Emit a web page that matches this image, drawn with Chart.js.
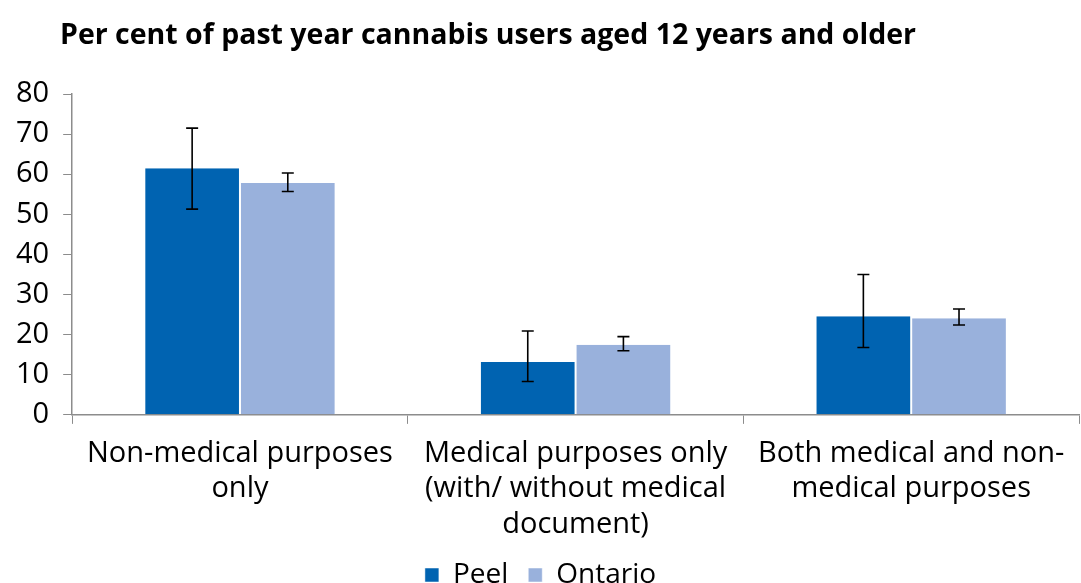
<!DOCTYPE html>
<html>
<head>
<meta charset="utf-8">
<script src="https://cdn.jsdelivr.net/npm/chart.js@4"></script>
<style>
  html, body { margin: 0; padding: 0; background: #fff; }
  #wrap { width: 1081px; height: 583px; }
</style>
</head>
<body>
<div id="wrap"><canvas id="cannabisChart" width="1081" height="583"></canvas></div>
<script>
// Chart data
const categories = [
    ['Non-medical purposes', 'only'],
    ['Medical purposes only', '(with/ without medical', 'document)'],
    ['Both medical and non-', 'medical purposes']
];
const peelValues = [61.5, 13.2, 24.6];
const peelLow = [51.3, 8.3, 16.8];
const peelHigh = [71.5, 20.9, 35.0];
const ontarioValues = [57.8, 17.5, 24.1];
const ontarioLow = [55.7, 16.0, 22.4];
const ontarioHigh = [60.3, 19.5, 26.4];
const yTicks = [0, 10, 20, 30, 40, 50, 60, 70, 80];

const FONT = "'Open Sans', 'DejaVu Sans', sans-serif";
const titleText = 'Per cent of past year cannabis users aged 12 years and older';

// Draws the bold title at the top left
const titlePlugin = {
    id: 'titleText',
    afterDraw(chart) {
        const ctx = chart.ctx;
        ctx.save();
        ctx.font = "bold 28.5px " + FONT;
        ctx.fillStyle = '#000';
        ctx.textBaseline = 'middle';
        ctx.fillText(titleText, 60, 36);
        ctx.restore();
    }
};

// Error bars for every bar, read from the low/high arrays
const errorBarPlugin = {
    id: 'errorBars',
    afterDatasetsDraw(chart) {
        const ctx = chart.ctx;
        const yScale = chart.scales.y;
        ctx.save();
        ctx.strokeStyle = '#000';
        ctx.lineWidth = 1.6;
        chart.data.datasets.forEach((ds, i) => {
            const meta = chart.getDatasetMeta(i);
            meta.data.forEach((bar, j) => {
                const x = bar.x;
                const yLow = yScale.getPixelForValue(ds.errLow[j]);
                const yHigh = yScale.getPixelForValue(ds.errHigh[j]);
                const cap = 6;
                ctx.beginPath();
                ctx.moveTo(x, yLow);
                ctx.lineTo(x, yHigh);
                ctx.moveTo(x - cap, yLow);
                ctx.lineTo(x + cap, yLow);
                ctx.moveTo(x - cap, yHigh);
                ctx.lineTo(x + cap, yHigh);
                ctx.stroke();
            });
        });
        ctx.restore();
    }
};

const chart = new Chart(document.getElementById('cannabisChart'), {
    type: 'bar',
    data: {
        labels: categories,
        datasets: [
            {
                label: 'Peel',
                data: peelValues,
                errLow: peelLow,
                errHigh: peelHigh,
                backgroundColor: '#0063b1',
                borderColor: '#ffffff',
                borderWidth: { left: 1, right: 1 },
                categoryPercentage: 0.57,
                barPercentage: 1.0
            },
            {
                label: 'Ontario',
                data: ontarioValues,
                errLow: ontarioLow,
                errHigh: ontarioHigh,
                backgroundColor: '#99b1dc',
                borderColor: '#ffffff',
                borderWidth: { left: 1, right: 1 },
                categoryPercentage: 0.57,
                barPercentage: 1.0
            }
        ]
    },
    options: {
        responsive: false,
        animation: false,
        layout: {
            padding: { top: 94, right: 2, left: 2, bottom: -16 }
        },
        plugins: {
            legend: {
                position: 'bottom',
                labels: {
                    font: { family: FONT, size: 28 },
                    color: '#000',
                    usePointStyle: true,
                    pointStyle: 'rect',
                    boxWidth: 14,
                    boxHeight: 14,
                    padding: 20
                }
            },
            tooltip: { enabled: false },
            title: { display: false }
        },
        scales: {
            x: {
                // let the label block overlap the legend's top padding
                afterFit: scale => { scale.height -= 13; },
                grid: {
                    display: true,
                    drawOnChartArea: false,
                    offset: true,
                    tickLength: 9,
                    color: '#8c8c8c'
                },
                border: { color: '#8c8c8c', width: 1.5 },
                ticks: {
                    font: { family: FONT, size: 29, lineHeight: 1.22 },
                    color: '#000',
                    maxRotation: 0,
                    padding: 12
                }
            },
            y: {
                min: 0,
                max: 80,
                afterBuildTicks: axis => {
                    axis.ticks = yTicks.map(v => ({ value: v }));
                },
                grid: {
                    display: true,
                    drawOnChartArea: false,
                    tickLength: 9,
                    color: '#8c8c8c'
                },
                border: { color: '#8c8c8c', width: 1.5 },
                ticks: {
                    font: { family: FONT, size: 29 },
                    color: '#000',
                    padding: 14
                }
            }
        }
    },
    plugins: [titlePlugin, errorBarPlugin]
});
</script>
</body>
</html>
